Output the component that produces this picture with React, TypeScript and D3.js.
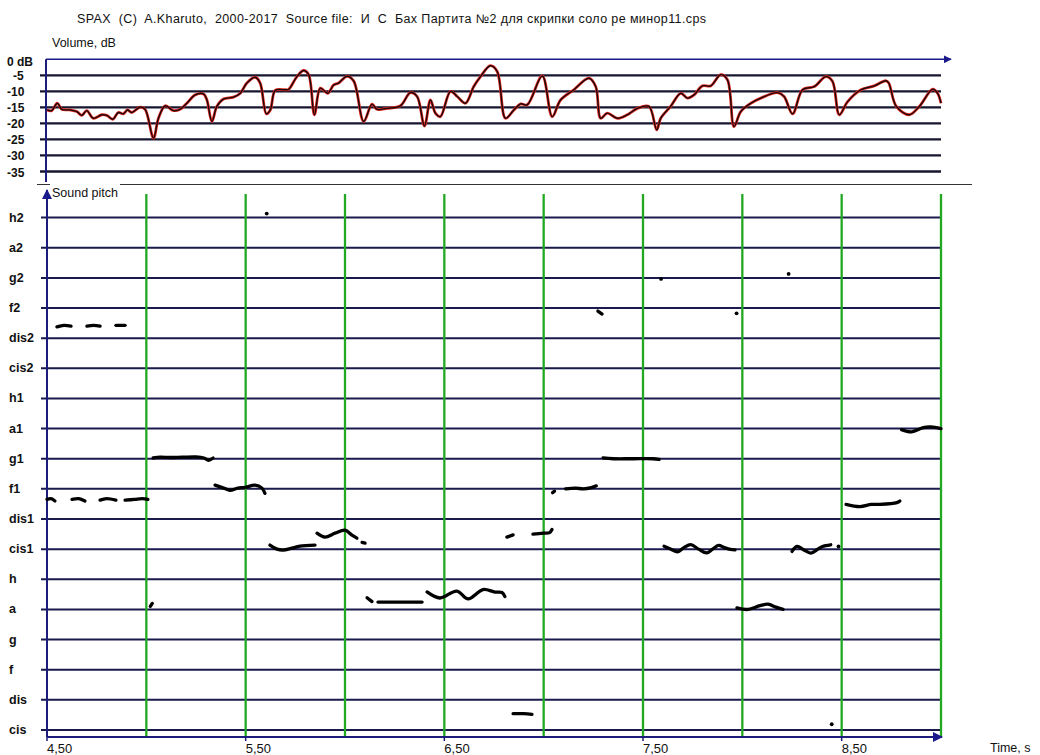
import React from "react";
import * as d3 from "d3";

const titleText =
  "SPAX  (C)  A.Kharuto,  2000-2017  Source file:  И  С  Бах Партита №2 для скрипки соло ре минор11.cps";

const volumeTicks = [0, -5, -10, -15, -20, -25, -30, -35];
const volumeTickLabels = ["0 dB", "-5", "-10", "-15", "-20", "-25", "-30", "-35"];

const pitchNames = ["cis", "dis", "f", "g", "a", "h", "cis1", "dis1", "f1", "g1", "a1", "h1", "cis2", "dis2", "f2", "g2", "a2", "h2"];
const pitchMidi = [49, 51, 53, 55, 57, 59, 61, 63, 65, 67, 69, 71, 73, 75, 77, 79, 81, 83];

const timeTicks = [4.5, 5.5, 6.5, 7.5, 8.5];
const timeTickLabels = ["4,50", "5,50", "6,50", "7,50", "8,50"];
const gridTimes = [5.0, 5.5, 6.0, 6.5, 7.0, 7.5, 8.0, 8.5, 9.0];

// [time s, volume dB]
const volumeCurve: [number, number][] = [
  [4.5, -15.8], [4.524, -16], [4.552, -13.7], [4.574, -15.6], [4.616, -15.8], [4.65, -16.3],
  [4.675, -17.5], [4.7, -16], [4.733, -18.4], [4.776, -17.3], [4.801, -17.5], [4.831, -18.7],
  [4.859, -16.6], [4.884, -17], [4.905, -15.8], [4.927, -16.6], [4.969, -14.9], [4.994, -15.6],
  [5.036, -24.6], [5.061, -18.4], [5.095, -14.5], [5.136, -16], [5.17, -15.6], [5.204, -13.7],
  [5.246, -11.1], [5.288, -10.8], [5.305, -12.7], [5.33, -19.4], [5.355, -14.7], [5.388, -12.4],
  [5.439, -11.8], [5.473, -10.6], [5.506, -7.4], [5.548, -5.6], [5.573, -7.4], [5.604, -17],
  [5.624, -15.8], [5.649, -9.7], [5.699, -9.5], [5.716, -9.4], [5.758, -5.4], [5.792, -3.5],
  [5.817, -4.8], [5.846, -17.3], [5.876, -9], [5.913, -10.6], [5.943, -8], [5.968, -7.4],
  [6.01, -5.3], [6.044, -6.8], [6.094, -19.4], [6.136, -14], [6.161, -15.6], [6.212, -15.3],
  [6.279, -14.5], [6.329, -10.4], [6.363, -11.6], [6.4, -20.8], [6.43, -12.7], [6.455, -16.8],
  [6.48, -17.9], [6.531, -10], [6.565, -11.6], [6.606, -13.7], [6.648, -8.5], [6.682, -5.4],
  [6.732, -2], [6.766, -3.8], [6.808, -18.4], [6.85, -15.8], [6.884, -13.9], [6.917, -14.2],
  [6.993, -5.2], [7.043, -17.9], [7.085, -12.7], [7.152, -9.5], [7.228, -5.9], [7.262, -8.5],
  [7.287, -18.4], [7.32, -16.8], [7.371, -18.4], [7.421, -17.3], [7.472, -15.3], [7.53, -14.7],
  [7.569, -22], [7.589, -18.4], [7.639, -14.7], [7.69, -10.6], [7.724, -12.1], [7.757, -11.1],
  [7.799, -8.3], [7.841, -8.3], [7.891, -4.8], [7.925, -6.4], [7.958, -21], [7.992, -16.3],
  [8.043, -13.7], [8.093, -12.1], [8.177, -10.4], [8.21, -11.6], [8.253, -17], [8.303, -9.5],
  [8.362, -8.5], [8.421, -5.4], [8.454, -6.9], [8.488, -17.3], [8.53, -13.2], [8.597, -9.5],
  [8.664, -8.3], [8.723, -6.7], [8.737, -7.4], [8.775, -14.7], [8.84, -17.3], [8.891, -14.7],
  [8.958, -9.3], [8.983, -10.6], [9.0, -13.7],
];

// pitch traces: [time s, MIDI pitch]
const pitchSegments: [number, number][][] = [
  [[4.55, 75.75], [4.585, 75.85], [4.621, 75.8]],
  [[4.701, 75.8], [4.735, 75.85], [4.767, 75.8]],
  [[4.847, 75.85], [4.893, 75.85]],
  [[4.5, 64.3], [4.52, 64.35], [4.54, 64.2]],
  [[4.626, 64.3], [4.66, 64.35], [4.691, 64.2]],
  [[4.767, 64.25], [4.8, 64.35], [4.847, 64.25]],
  [[4.893, 64.25], [4.94, 64.3], [4.98, 64.35], [5.008, 64.3]],
  [[5.02, 57.2], [5.03, 57.4]],
  [[5.034, 67.05], [5.07, 67.1], [5.12, 67.08], [5.18, 67.1], [5.25, 67.12], [5.29, 67.05], [5.313, 66.9], [5.336, 67.05]],
  [[5.346, 65.25], [5.39, 65.05], [5.421, 64.9], [5.46, 65.05], [5.497, 65.1], [5.547, 65.25], [5.582, 65.05], [5.597, 64.7]],
  [[5.622, 61.27], [5.658, 61.0], [5.688, 60.94], [5.733, 61.07], [5.773, 61.2], [5.849, 61.27]],
  [[5.859, 62.06], [5.899, 61.8], [5.95, 62.06], [6.0, 62.26], [6.035, 61.93], [6.06, 61.73]],
  [[6.086, 61.45], [6.101, 61.4]],
  [[6.111, 57.78], [6.136, 57.52]],
  [[6.166, 57.49], [6.25, 57.49], [6.388, 57.49]],
  [[6.413, 58.16], [6.478, 57.76], [6.563, 58.22], [6.62, 57.7], [6.695, 58.32], [6.755, 58.15], [6.79, 58.12], [6.805, 57.85]],
  [[6.815, 61.8], [6.846, 61.95]],
  [[6.846, 50.08], [6.9, 50.08], [6.941, 50.04]],
  [[6.946, 62.0], [7.0, 62.06], [7.03, 62.1], [7.042, 62.3]],
  [[7.045, 64.75], [7.055, 64.85]],
  [[7.11, 65.0], [7.16, 65.05], [7.2, 65.0], [7.24, 65.08], [7.265, 65.2]],
  [[7.273, 76.8], [7.294, 76.6]],
  [[7.299, 67.05], [7.35, 67.0], [7.45, 67.0], [7.55, 67.0], [7.581, 66.95]],
  [[7.606, 61.2], [7.641, 61.0], [7.674, 60.82], [7.706, 61.1], [7.74, 61.3], [7.78, 61.0], [7.82, 60.75], [7.85, 61.0], [7.88, 61.25], [7.91, 61.1], [7.94, 60.98], [7.963, 60.95]],
  [[7.973, 57.1], [8.028, 57.0], [8.089, 57.25], [8.129, 57.35], [8.169, 57.15], [8.205, 57.0]],
  [[8.25, 60.85], [8.275, 61.18], [8.31, 60.95], [8.344, 60.74], [8.38, 61.0], [8.403, 61.18], [8.445, 61.29]],
  [[8.522, 63.97], [8.592, 63.82], [8.65, 63.97], [8.693, 63.97], [8.778, 64.09], [8.793, 64.2]],
  [[8.801, 68.93], [8.852, 68.78], [8.911, 69.07], [8.949, 69.11], [9.0, 69.0]],
];

const pitchDots: [number, number][] = [
  [5.606, 83.27], [7.591, 78.93], [7.971, 76.65], [8.233, 79.26], [8.45, 49.38], [8.484, 61.18],
];

const FONT = "'Liberation Sans', Arial, Helvetica, sans-serif";
const NAVY = "#1a1a4e";

export default function App() {
  const x = d3.scaleLinear().domain([4.5, 9.0]).range([47, 941]);
  const yVol = d3.scaleLinear().domain([0, -35]).range([59.3, 171.5]);
  const yPitch = d3.scaleLinear().domain([49, 83]).range([730, 217.6]);

  const volLine = d3
    .line<[number, number]>()
    .x((d) => x(d[0]))
    .y((d) => yVol(d[1]))
    .curve(d3.curveCatmullRom.alpha(0.5));
  const pitchLine = d3
    .line<[number, number]>()
    .x((d) => x(d[0]))
    .y((d) => yPitch(d[1]))
    .curve(d3.curveCatmullRom.alpha(0.5));

  const xEnd = x(9.0);
  const axisBottom = 737;
  const volPath = volLine(volumeCurve) || "";

  return (
    <div style={{ position: "absolute", left: 0, top: 0 }}>
      <svg width={1040} height={755} style={{ display: "block", background: "#fff" }} fontFamily={FONT}>
        <defs>
          <marker id="arr" viewBox="0 0 10 10" refX="9" refY="5" markerWidth="5" markerHeight="5" orient="auto">
            <path d="M0,0 L10,5 L0,10 z" fill="#1a1a8a" />
          </marker>
        </defs>

        {/* title */}
        <text x={77} y={23} fontSize={12.5} fill="#111" textLength={629} lengthAdjust="spacing" style={{ whiteSpace: "pre" }}>
          {titleText}
        </text>
        <text x={52} y={47} fontSize={12.5} fill="#111">Volume, dB</text>

        {/* volume panel */}
        {volumeTicks.map((v, i) =>
          v === 0 ? null : (
            <line key={"vg" + i} x1={40} x2={xEnd} y1={yVol(v)} y2={yVol(v)} stroke="#16162e" strokeWidth={2.3} />
          )
        )}
        <line x1={46} x2={951} y1={yVol(0)} y2={yVol(0)} stroke="#1a1a8a" strokeWidth={1.6} markerEnd="url(#arr)" />
        <line x1={46} x2={46} y1={yVol(0)} y2={182} stroke="#1c1c7a" strokeWidth={2} />
        {volumeTicks.map((v, i) => (
          <text
            key={"vl" + i}
            x={v === -5 ? 13 : 7}
            y={yVol(v) + (v === 0 ? 3 : 1)}
            fontSize={12}
            fontWeight="bold"
            fill="#111"
            dominantBaseline="central"
          >
            {volumeTickLabels[i]}
          </text>
        ))}
        <path d={volPath} fill="none" stroke="#e3261f" strokeWidth={2.8} strokeLinejoin="round" />
        <path d={volPath} fill="none" stroke="#1a0a0a" strokeWidth={1.4} strokeLinejoin="round" />

        {/* separator */}
        <line x1={37} x2={50} y1={184.5} y2={184.5} stroke="#333" strokeWidth={1} />
        <line x1={120} x2={972} y1={184.5} y2={184.5} stroke="#333" strokeWidth={1} />
        <text x={52} y={197} fontSize={12.5} fill="#111">Sound pitch</text>

        {/* pitch panel grid */}
        {pitchMidi.map((m, i) => (
          <line key={"pg" + i} x1={41} x2={xEnd} y1={yPitch(m)} y2={yPitch(m)} stroke={NAVY} strokeWidth={2} />
        ))}
        {gridTimes.map((t, i) => (
          <line key={"gl" + i} x1={x(t)} x2={x(t)} y1={194} y2={axisBottom} stroke="#22a822" strokeWidth={2.3} />
        ))}
        {pitchNames.map((n, i) => (
          <text key={"pl" + i} x={9} y={yPitch(pitchMidi[i])} fontSize={12.5} fontWeight="bold" fill="#111" dominantBaseline="central">
            {n}
          </text>
        ))}
        <line x1={47} x2={47} y1={axisBottom} y2={190} stroke="#1c1c7a" strokeWidth={2} markerEnd="url(#arr)" />
        <line x1={47} x2={xEnd + 1} y1={axisBottom} y2={axisBottom} stroke="#1c1c7a" strokeWidth={2} markerEnd="url(#arr)" />
        {timeTicks.map((t, i) => (
          <g key={"tt" + i}>
            <line x1={x(t)} x2={x(t)} y1={axisBottom} y2={741} stroke="#1c1c7a" strokeWidth={1.5} />
            <text x={x(t)} y={753} fontSize={13} fill="#111">{timeTickLabels[i]}</text>
          </g>
        ))}
        <text x={990} y={752} fontSize={12.5} fill="#111">Time, s</text>

        {/* pitch traces */}
        {pitchSegments.map((s, i) => (
          <path key={"ps" + i} d={pitchLine(s) || ""} fill="none" stroke="#000" strokeWidth={3.3} strokeLinecap="round" strokeLinejoin="round" />
        ))}
        {pitchDots.map((d, i) => (
          <circle key={"pd" + i} cx={x(d[0])} cy={yPitch(d[1])} r={1.9} fill="#000" />
        ))}
      </svg>
    </div>
  );
}
